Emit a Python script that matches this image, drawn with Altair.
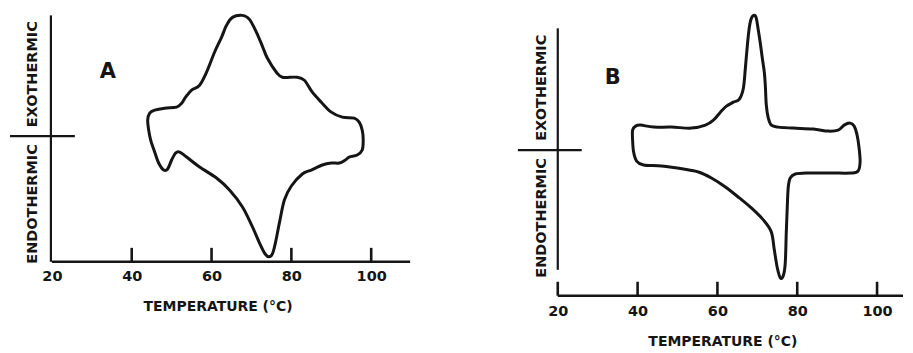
import altair as alt
import pandas as pd

# ---- Panel A: DSC loop (temperature in °C, heat-flow signal in arbitrary units, 0 = baseline cross)
a_temp = [44.0, 44.5, 45.75, 48.25, 51.25, 52.5, 53.5, 55.0, 57.0, 58.75, 60.75, 62.5, 63.75,
          65.25, 67.75, 69.5, 71.25, 72.75, 74.0, 76.25, 77.75, 81.25, 83.25, 85.25, 87.5, 90.0,
          92.75, 95.75, 97.0, 97.75, 98.0, 97.75, 96.5, 94.5, 93.5, 92.0, 90.0, 87.75, 85.0,
          82.75, 80.0, 78.25, 77.0, 76.0, 75.25, 74.25, 73.25, 72.0, 70.25, 67.75, 64.5, 61.25,
          57.0, 53.75, 52.0, 51.0, 50.0, 49.0, 48.0, 46.75, 45.75, 44.75, 44.25]
a_signal = [1.6, 2.3, 2.6, 2.8, 2.9, 3.3, 3.9, 4.6, 5.1, 6.4, 8.4, 9.9, 11.1,
            11.9, 12.1, 11.7, 10.4, 9.0, 7.8, 6.4, 5.9, 5.9, 5.6, 4.4, 3.4, 2.4,
            1.9, 1.8, 1.4, 0.6, -0.4, -1.4, -1.9, -2.1, -2.4, -2.7, -2.7, -2.9, -3.4,
            -3.8, -5.0, -6.4, -8.7, -10.7, -11.8, -12.1, -11.7, -10.7, -9.1, -7.1, -5.4, -4.2,
            -3.1, -2.1, -1.6, -1.7, -2.4, -3.3, -3.4, -2.7, -1.6, -0.4, 0.6]

# ---- Panel B
b_temp = [38.75, 39.5, 40.75, 44.0, 48.5, 53.5, 57.0, 59.0, 60.75, 62.25, 64.0, 65.5, 66.5,
          67.0, 67.5, 68.0, 68.5, 69.25, 69.75, 70.25, 70.75, 71.25, 71.75, 72.0, 72.25, 72.75,
          73.5, 75.25, 79.0, 84.0, 87.75, 90.25, 91.75, 93.25, 94.25, 95.0, 95.5, 95.75, 95.25,
          93.5, 88.5, 82.75, 79.5, 78.25, 77.75, 77.5, 77.25, 77.0, 76.5, 75.75, 75.0, 74.25,
          73.5, 71.5, 68.5, 65.5, 62.0, 58.5, 55.25, 51.5, 46.0, 41.5, 39.75, 39.0, 38.75]
b_signal = [2.0, 2.4, 2.5, 2.3, 2.3, 2.2, 2.5, 3.0, 3.8, 4.4, 4.8, 5.1, 6.2,
            8.2, 10.5, 12.3, 13.2, 13.5, 13.2, 12.0, 10.7, 9.2, 7.8, 6.5, 4.5, 3.2,
            2.5, 2.3, 2.2, 2.1, 1.9, 2.0, 2.5, 2.7, 2.4, 1.5, 0.2, -1.2, -2.1,
            -2.3, -2.3, -2.3, -2.4, -2.8, -3.7, -5.7, -8.3, -11.3, -12.6, -12.8, -11.8, -10.0,
            -8.2, -7.0, -5.8, -4.8, -3.7, -2.8, -2.2, -1.9, -1.6, -1.5, -1.1, -0.2, 1.0]

tick_labels = [20, 40, 60, 80, 100]
a_ticks = [40, 60, 80, 100]
b_ticks = [20, 40, 60, 80, 100]
side_labels = ["EXOTHERMIC", "ENDOTHERMIC"]
x_title = "TEMPERATURE (°C)"

INK = "#151515"
FONT = "DejaVu Sans"


def panel(temps, signals, ticks, letter, x_dom, y_dom, width, height, axis_end,
          yline, cross, exo_pos, endo_pos, letter_pos, title_x, title_y, label_pad):
    xs = alt.Scale(domain=x_dom, nice=False, zero=False)
    ys = alt.Scale(domain=y_dom, nice=False, zero=False)
    ax = alt.Axis(values=tick_labels, domain=False, ticks=False, tickSize=0, grid=False,
                  labelFont=FONT, labelFontSize=14.5, labelFontWeight="bold", labelColor=INK,
                  labelPadding=label_pad, labelAngle=0, labelFlush=False,
                  title=x_title, titleFont=FONT, titleFontSize=14, titleFontWeight="bold",
                  titleColor=INK, titleX=title_x, titleY=title_y, titleBaseline="middle",
                  titleAlign="center")
    X = lambda f: alt.X(f, scale=xs, axis=ax)
    Y = lambda f: alt.Y(f, scale=ys, axis=None)

    curve_df = pd.DataFrame({"t": temps, "s": signals, "i": list(range(len(temps)))})
    curve = alt.Chart(curve_df).mark_line(
        interpolate="cardinal-closed", color=INK, strokeWidth=3.0,
        strokeJoin="round", strokeCap="round"
    ).encode(x=X("t:Q"), y=Y("s:Q"), order="i:Q")

    bottom = y_dom[0]
    rows = [
        {"t": 20, "t2": axis_end, "s": bottom, "s2": bottom, "w": 2.6},
        {"t": yline[0], "t2": yline[0], "s": yline[1], "s2": yline[2], "w": 2.2},
        {"t": cross[0], "t2": cross[1], "s": 0, "s2": 0, "w": 2.2},
    ]
    for v in ticks:
        rows.append({"t": v, "t2": v, "s": bottom, "s2": bottom + 1.4, "w": 2.6})
    rules = alt.Chart(pd.DataFrame(rows)).mark_rule(color=INK).encode(
        x=X("t:Q"), x2="t2:Q", y=Y("s:Q"), y2="s2:Q",
        strokeWidth=alt.StrokeWidth("w:Q", scale=None)
    )

    side_df = pd.DataFrame({"t": [exo_pos[0], endo_pos[0]], "s": [exo_pos[1], endo_pos[1]],
                            "label": side_labels})
    side = alt.Chart(side_df).mark_text(
        angle=270, font=FONT, fontSize=14.5, fontWeight="bold", color=INK,
        align="center", baseline="middle"
    ).encode(x=X("t:Q"), y=Y("s:Q"), text="label:N")

    let_df = pd.DataFrame({"t": [letter_pos[0]], "s": [letter_pos[1]], "label": [letter]})
    let = alt.Chart(let_df).mark_text(
        font=FONT, fontSize=21, fontWeight="bold", color=INK,
        align="center", baseline="middle"
    ).encode(x=X("t:Q"), y=Y("s:Q"), text="label:N")

    return alt.layer(curve, rules, side, let).properties(width=width, height=height)


panel_a = panel(a_temp, a_signal, a_ticks, "A", [9, 120], [-12.6, 12.8], 444, 254, 109.75,
                (19.75, 12.1, -12.6), (9.5, 25.75), (15.25, 6.2), (15.25, -6.8), (34, 6.4),
                210, 45, 8)
panel_b = panel(b_temp, b_signal, b_ticks, "B", [-4, 106.5], [-14.6, 14.2], 442, 288, 106.5,
                (20, 12.2, -12.0), (10, 26), (16, 6.25), (16, -6.8), (33.75, 7.2),
                261, 46, 9)

chart = alt.hconcat(panel_a, panel_b, spacing=11).properties(
    padding={"left": 0, "top": 0, "right": 0, "bottom": 0},
    background="white"
).configure_view(stroke=None, strokeWidth=0)

chart.save("out.html", embed_options={"renderer": "svg", "actions": False})
